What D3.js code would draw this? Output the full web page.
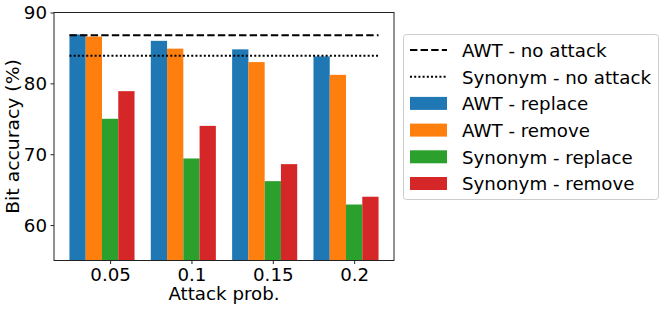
<!DOCTYPE html>
<html>
<head>
<meta charset="utf-8">
<script src="https://cdn.jsdelivr.net/npm/d3@7"></script>
<style>
  body { margin: 0; background: #fff; }
  text { font-family: "DejaVu Sans", sans-serif; fill: #000; }
</style>
</head>
<body>
<svg class="chart"></svg>
<script>
// data
const categories = ['0.05', '0.1', '0.15', '0.2']
const awtReplace = [86.9, 86.0, 84.8, 83.8]
const awtRemove = [86.6, 84.9, 83.0, 81.2]
const synonymReplace = [75.0, 69.4, 66.2, 62.9]
const synonymRemove = [78.9, 74.0, 68.6, 64.0]
const awtNoAttack = 86.8
const synonymNoAttack = 83.9
const yTicks = [60, 70, 80, 90]

const seriesNames = ['AWT - replace', 'AWT - remove', 'Synonym - replace', 'Synonym - remove']
const seriesValues = [awtReplace, awtRemove, synonymReplace, synonymRemove]
const colors = ['#1f77b4', '#ff7f0e', '#2ca02c', '#d62728']

const width = 664
const height = 310
const margin = { left: 54, right: 270, top: 12.5, bottom: 49.5 }
const barWidth = 0.2
const fontSize = 17

const svg = d3.select('.chart').attr('width', width).attr('height', height)

// the reference text runs a bit wider than plain DejaVu, so stretch it
let stretch = 1
function widen(sel, k) {
  sel.each(function() {
    const w = this.getComputedTextLength()
    this.setAttribute('textLength', w * (k || stretch))
    this.setAttribute('lengthAdjust', 'spacingAndGlyphs')
  })
}
const probe = svg.append('text').attr('font-size', fontSize).text('Synonym - no attack')
stretch = 189 / probe.node().getComputedTextLength()
probe.remove()

const x = d3.scaleLinear()
  .domain([-0.4 - 0.19, 3.4 + 0.19])
  .range([margin.left, width - margin.right])
const y = d3.scaleLinear()
  .domain([55, 90])
  .range([height - margin.bottom, margin.top])

function barX(i, j) {
  return i + (j - 1.5) * barWidth
}

// bars
const bars = svg.append('g').attr('class', 'bars')
seriesValues.forEach((values, j) => {
  bars.selectAll('.bar-' + j)
    .data(values)
    .join('rect')
    .attr('class', 'bar-' + j)
    .attr('x', (d, i) => x(barX(i, j) - barWidth / 2))
    .attr('width', x(barWidth) - x(0))
    .attr('y', d => y(d))
    .attr('height', d => y(55) - y(d))
    .attr('fill', colors[j])
})

// reference lines
function drawHLine(value, dash) {
  svg.append('line')
    .attr('x1', x(-0.4))
    .attr('x2', x(3.4))
    .attr('y1', y(value))
    .attr('y2', y(value))
    .attr('stroke', '#000')
    .attr('stroke-width', 2)
    .attr('stroke-dasharray', dash)
}
drawHLine(awtNoAttack, '7.4,3.2')
drawHLine(synonymNoAttack, '2,2.2')

// axes
const xAxis = d3.axisBottom(x)
  .tickValues(categories.map((c, i) => i + 0.1))
  .tickFormat((d, i) => categories[i])
  .tickSize(3.5)
  .tickPadding(4)
const yAxis = d3.axisLeft(y)
  .tickValues(yTicks)
  .tickSize(3.5)
  .tickPadding(3.5)

const gx = svg.append('g')
  .attr('transform', `translate(0,${height - margin.bottom})`)
  .call(xAxis)
const gy = svg.append('g')
  .attr('transform', `translate(${margin.left},0)`)
  .call(yAxis)
;[gx, gy].forEach(g => {
  g.select('.domain').remove()
  g.selectAll('line').attr('stroke', '#222')
  g.selectAll('text').attr('font-size', fontSize).attr('font-family', '"DejaVu Sans", sans-serif')
})
gx.selectAll('text').attr('dy', null).attr('y', 20.5)
gy.selectAll('text').attr('dy', '0.36em')
widen(gx.selectAll('text'))
widen(gy.selectAll('text'))

// frame
svg.append('rect')
  .attr('x', margin.left)
  .attr('y', margin.top)
  .attr('width', width - margin.right - margin.left)
  .attr('height', height - margin.bottom - margin.top)
  .attr('fill', 'none')
  .attr('stroke', '#222')
  .attr('stroke-width', 1)

// axis labels
svg.append('text')
  .attr('x', (margin.left + width - margin.right) / 2)
  .attr('y', 299.5)
  .attr('text-anchor', 'middle')
  .attr('font-size', fontSize)
  .text('Attack prob.')
  .call(widen)

svg.append('text')
  .attr('transform', `translate(18.5,${(margin.top + height - margin.bottom) / 2}) rotate(-90)`)
  .attr('text-anchor', 'middle')
  .attr('font-size', fontSize)
  .text('Bit accuracy (%)')
  .call(sel => widen(sel, stretch * 1.03))

// legend
const legend = svg.append('g').attr('class', 'legend')
legend.append('rect')
  .attr('x', 403.5)
  .attr('y', 34.5)
  .attr('width', 255)
  .attr('height', 165)
  .attr('rx', 3)
  .attr('fill', '#fff')
  .attr('stroke', '#ccc')

const legendItems = [
  { name: 'AWT - no attack', type: 'line', dash: '7.4,3.2' },
  { name: 'Synonym - no attack', type: 'line', dash: '2,2.2' },
].concat(seriesNames.map((name, j) => ({ name: name, type: 'patch', color: colors[j] })))

legendItems.forEach((item, i) => {
  const cy = 50 + i * 26.7
  if (item.type === 'line') {
    legend.append('line')
      .attr('x1', 410)
      .attr('x2', 447)
      .attr('y1', cy)
      .attr('y2', cy)
      .attr('stroke', '#000')
      .attr('stroke-width', 2)
      .attr('stroke-dasharray', item.dash)
  } else {
    legend.append('rect')
      .attr('x', 410)
      .attr('y', cy - 6.5)
      .attr('width', 37)
      .attr('height', 13)
      .attr('fill', item.color)
  }
  legend.append('text')
    .attr('x', 462)
    .attr('y', cy + 6.8)
    .attr('font-size', fontSize)
    .text(item.name)
    .call(widen)
})
</script>
</body>
</html>
